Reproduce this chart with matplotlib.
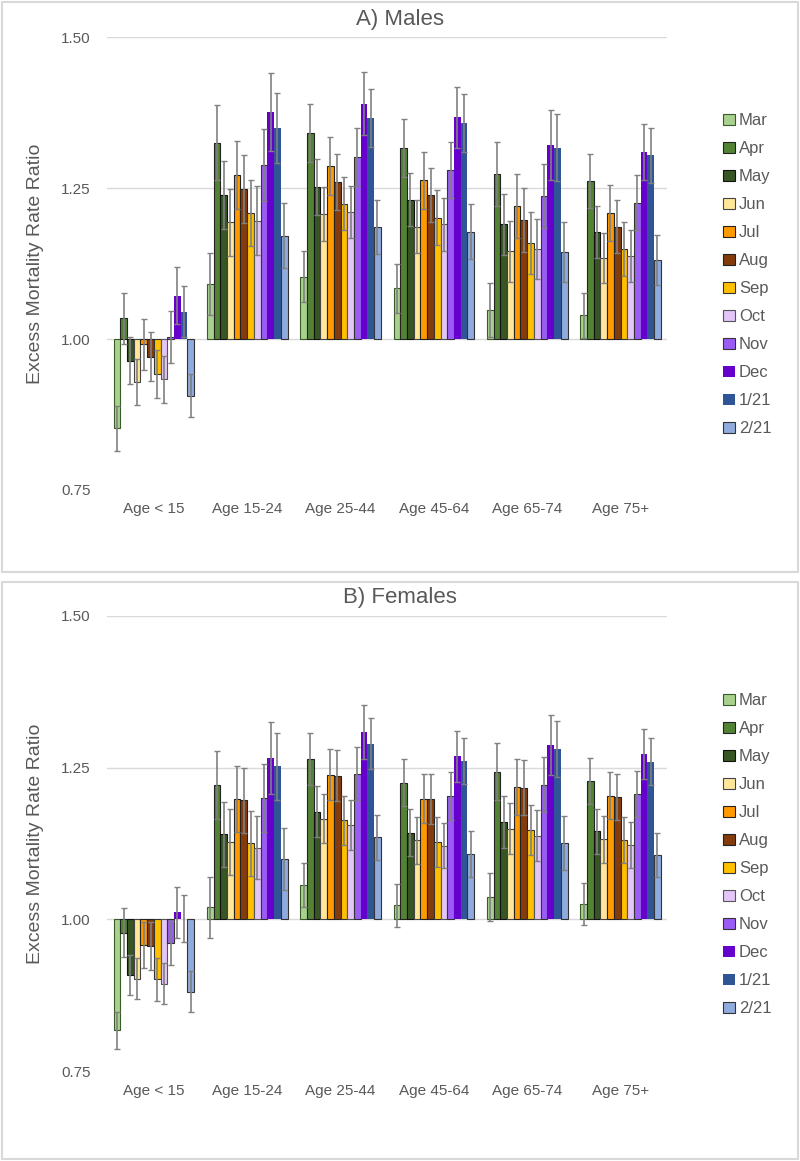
import numpy as np
import matplotlib
matplotlib.use('Agg')
import matplotlib.pyplot as plt
from matplotlib.patches import Patch, Rectangle

plt.rcParams['font.family'] = ['Liberation Sans', 'DejaVu Sans']

age_groups = ['Age < 15', 'Age 15-24', 'Age 25-44', 'Age 45-64', 'Age 65-74', 'Age 75+']
months = ['Mar', 'Apr', 'May', 'Jun', 'Jul', 'Aug', 'Sep', 'Oct', 'Nov', 'Dec', '1/21', '2/21']

face_colors = ['#a9d18e', '#548235', '#375623', '#ffe699', '#ff9900', '#843c0c',
               '#ffc000', '#e2c6f7', '#9b5cf6', '#6600cc', '#2f5597', '#8faadc']
edge_colors = ['#3a5a2a', '#222222', '#111111', '#444444', '#222222', '#222222',
               '#333333', '#555555', '#333333', 'none', 'none', '#333333']

# rate ratios, one row per age group, one column per month
males = [
    [0.852, 1.034, 0.964, 0.929, 0.991, 0.971, 0.942, 0.933, 1.003, 1.072, 1.045, 0.906],
    [1.091, 1.325, 1.239, 1.193, 1.272, 1.248, 1.209, 1.196, 1.288, 1.376, 1.350, 1.171],
    [1.103, 1.342, 1.252, 1.207, 1.286, 1.260, 1.224, 1.211, 1.302, 1.390, 1.366, 1.186],
    [1.084, 1.317, 1.231, 1.186, 1.263, 1.239, 1.201, 1.190, 1.280, 1.367, 1.358, 1.178],
    [1.048, 1.274, 1.190, 1.145, 1.221, 1.197, 1.159, 1.149, 1.237, 1.321, 1.317, 1.144],
    [1.039, 1.262, 1.178, 1.134, 1.209, 1.186, 1.149, 1.137, 1.226, 1.310, 1.304, 1.131],
]
males_err = [
    [0.037, 0.043, 0.039, 0.038, 0.042, 0.041, 0.039, 0.039, 0.043, 0.047, 0.042, 0.036],
    [0.051, 0.062, 0.056, 0.055, 0.056, 0.056, 0.055, 0.057, 0.060, 0.064, 0.058, 0.054],
    [0.042, 0.048, 0.046, 0.045, 0.048, 0.047, 0.044, 0.043, 0.048, 0.052, 0.048, 0.045],
    [0.041, 0.048, 0.044, 0.044, 0.047, 0.045, 0.045, 0.044, 0.047, 0.051, 0.048, 0.046],
    [0.045, 0.053, 0.051, 0.050, 0.053, 0.053, 0.052, 0.050, 0.053, 0.058, 0.055, 0.049],
    [0.037, 0.045, 0.043, 0.041, 0.046, 0.044, 0.045, 0.043, 0.046, 0.046, 0.045, 0.041],
]
females = [
    [0.817, 0.978, 0.909, 0.902, 0.957, 0.956, 0.901, 0.894, 0.961, 1.012, 1.001, 0.881],
    [1.020, 1.222, 1.140, 1.127, 1.198, 1.196, 1.125, 1.118, 1.200, 1.266, 1.252, 1.100],
    [1.056, 1.264, 1.177, 1.166, 1.238, 1.237, 1.163, 1.155, 1.240, 1.309, 1.289, 1.135],
    [1.023, 1.225, 1.143, 1.130, 1.199, 1.198, 1.127, 1.121, 1.203, 1.269, 1.261, 1.107],
    [1.037, 1.243, 1.160, 1.149, 1.218, 1.217, 1.147, 1.138, 1.222, 1.287, 1.281, 1.126],
    [1.025, 1.228, 1.145, 1.132, 1.204, 1.202, 1.131, 1.122, 1.207, 1.273, 1.260, 1.106],
]
females_err = [
    [0.030, 0.040, 0.033, 0.034, 0.038, 0.039, 0.036, 0.034, 0.037, 0.042, 0.039, 0.034],
    [0.050, 0.056, 0.053, 0.054, 0.054, 0.054, 0.053, 0.052, 0.056, 0.059, 0.055, 0.051],
    [0.036, 0.043, 0.042, 0.040, 0.042, 0.042, 0.041, 0.041, 0.044, 0.045, 0.042, 0.037],
    [0.036, 0.039, 0.038, 0.039, 0.041, 0.041, 0.041, 0.037, 0.040, 0.042, 0.038, 0.038],
    [0.040, 0.047, 0.043, 0.042, 0.046, 0.045, 0.041, 0.042, 0.045, 0.049, 0.046, 0.044],
    [0.035, 0.038, 0.037, 0.039, 0.038, 0.038, 0.038, 0.038, 0.038, 0.041, 0.038, 0.037],
]

fig = plt.figure(figsize=(8, 11.61), dpi=100)

# chart frames like the spreadsheet export
fig.patches.append(Rectangle((0.002, 0.507), 0.996, 0.491, transform=fig.transFigure,
                             fill=False, edgecolor='#d9d9d9', lw=1.5))
fig.patches.append(Rectangle((0.002, 0.002), 0.996, 0.497, transform=fig.transFigure,
                             fill=False, edgecolor='#d9d9d9', lw=1.5))

w = 0.072
x = np.arange(len(age_groups))


def draw_panel(ax, data, err, title, title_y):
    data = np.array(data)
    err = np.array(err)
    for gy in [1.25, 1.5]:
        ax.axhline(gy, color='#d9d9d9', lw=1, zorder=0)
    ax.axhline(1.0, color='#d9d9d9', lw=1, zorder=0.5)
    for j, m in enumerate(months):
        xpos = x + (j - 5.5) * w
        vals = data[:, j]
        ec = edge_colors[j]
        ax.bar(xpos, vals - 1, bottom=1, width=w, color=face_colors[j],
               edgecolor=ec, linewidth=0.8 if ec != 'none' else 0, zorder=2)
        ax.errorbar(xpos, vals, yerr=err[:, j], fmt='none', ecolor='#808080',
                    elinewidth=1.2, capsize=2.5, capthick=1, zorder=3)
    ax.set_xlim(-0.5, 5.5)
    ax.set_ylim(0.75, 1.5)
    ax.set_yticks([0.75, 1.0, 1.25, 1.5])
    ax.set_yticklabels(['0.75', '1.00', '1.25', '1.50'])
    ax.set_xticks(x)
    ax.set_xticklabels(age_groups)
    ax.tick_params(axis='both', length=0, labelsize=11, colors='#595959')
    ax.tick_params(axis='y', pad=12)
    ax.tick_params(axis='x', pad=9)
    for s in ax.spines.values():
        s.set_visible(False)
    ax.set_ylabel('Excess Mortality Rate Ratio', fontsize=14, color='#595959')
    ax.yaxis.set_label_coords(-0.112, 0.5)
    fig.text(0.5, title_y, title, ha='center', va='center', fontsize=16, color='#595959')
    handles = [Patch(facecolor=face_colors[j], edgecolor=edge_colors[j],
                     linewidth=0.8 if edge_colors[j] != 'none' else 0)
               for j in range(len(months))]
    leg = ax.legend(handles, months, loc='center left', bbox_to_anchor=(1.085, 0.475),
                    frameon=False, fontsize=12, handlelength=0.7, handleheight=0.7,
                    handletextpad=0.25, labelspacing=0.78, borderpad=0)
    for t in leg.get_texts():
        t.set_color('#595959')


ax1 = fig.add_axes([0.134, 0.578, 0.70, 0.390])
draw_panel(ax1, males, males_err, 'A) Males', 0.983)

ax2 = fig.add_axes([0.134, 0.0775, 0.70, 0.392])
draw_panel(ax2, females, females_err, 'B) Females', 0.485)

fig.savefig('out.png', dpi=100)
